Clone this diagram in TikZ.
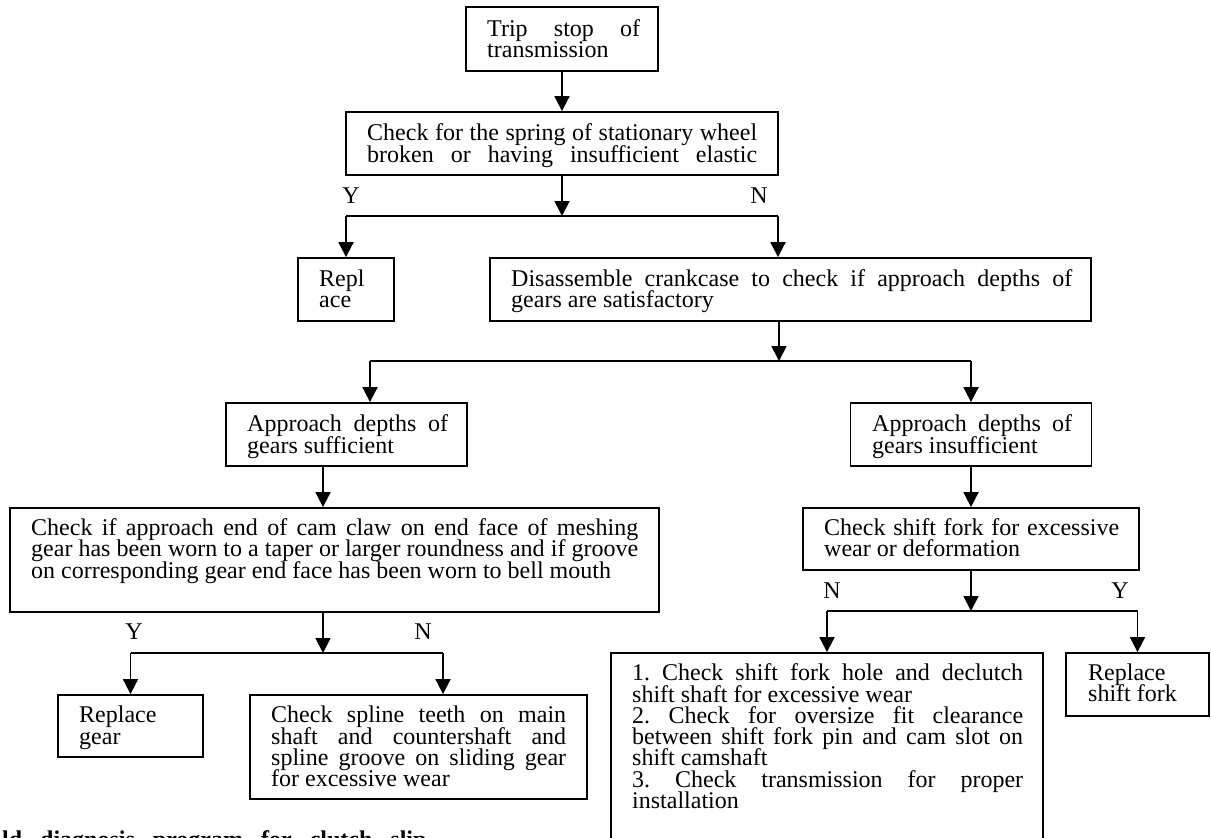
\documentclass[tikz,border=0pt]{standalone}
\usepackage{fontspec}
\setmainfont{Liberation Serif}
\usetikzlibrary{arrows.meta}
\newcommand\MyJust[1]{\hbox to \hsize{#1}}
\newcommand\MyPlain[1]{\hbox{#1}}
\newcommand\MyPar[2]{\vtop{\hsize=#1\relax #2}}
\newcommand\MyBoxFont{\fontsize{24}{21.3}\selectfont\lineskiplimit=-50pt\relax\frenchspacing}
\newcommand\MyCapFont{\bfseries\fontsize{24}{24}\selectfont\spaceskip=18pt\relax}
\begin{document}
\begin{tikzpicture}[x=1pt,y=-1pt,
  box/.style={draw, line width=1.8pt, inner sep=0pt, rectangle},
  txt/.style={inner sep=0pt, anchor=base west, font={\MyBoxFont}},
  lab/.style={inner sep=0pt, font={\fontsize{24}{24}\selectfont}},
  link/.style={line width=1.8pt},
  arr/.style={link, -{Triangle[length=15pt,width=15pt]}},
]
\useasboundingbox (0,0) rectangle (1211,838);
\clip (0,0) rectangle (1211,838);

% boxes
\node[box, minimum width=192pt, minimum height=64pt] (b1) at (562,39) {};
\node[box, minimum width=432pt, minimum height=63pt] (b2) at (562,143.5) {};
\node[box, minimum width=96pt, minimum height=63pt] (b3) at (346,289.5) {};
\node[box, minimum width=601pt, minimum height=63pt] (b4) at (790.5,289.5) {};
\node[box, minimum width=241pt, minimum height=63pt] (b5) at (346.5,434.5) {};
\node[box, minimum width=241pt, minimum height=63pt] (b6) at (971,434.5) {};
\node[box, minimum width=649pt, minimum height=104pt] (b7) at (334.5,560) {};
\node[box, minimum width=336pt, minimum height=62pt] (b11) at (971,539) {};
\node[box, minimum width=145pt, minimum height=62pt] (b8) at (130.5,726) {};
\node[box, minimum width=337pt, minimum height=104pt] (b10) at (418.5,747) {};
\node[box, minimum width=432pt, minimum height=250pt] (b9) at (827,778) {};
\node[box, minimum width=143pt, minimum height=63pt] (b12) at (1137.5,684.5) {};

% texts
\node[txt] (t1) at (487,36) {\MyPar{153pt}{\MyJust{Trip stop of}\MyPlain{transmission}}};
\node[txt] (t2) at (367,140.7) {\MyPar{390pt}{\MyJust{Check for the spring of stationary wheel}\MyJust{broken or having insufficient elastic}}};
\node[txt] (t3) at (319,286) {\MyPar{60pt}{\MyPlain{Repl}\MyPlain{ace}}};
\node[txt] (t4) at (511,286) {\MyPar{561pt}{\MyJust{Disassemble crankcase to check if approach depths of}\MyPlain{gears are satisfactory}}};
\node[txt] (t5) at (247,431.7) {\MyPar{201pt}{\MyJust{Approach depths of}\MyPlain{gears sufficient}}};
\node[txt] (t6) at (872,431.7) {\MyPar{200pt}{\MyJust{Approach depths of}\MyPlain{gears insufficient}}};
\node[txt] (t7) at (31,535.5) {\MyPar{607pt}{\MyJust{Check if approach end of cam claw on end face of meshing}\MyJust{gear has been worn to a taper or larger roundness and if groove}\MyPlain{on corresponding gear end face has been worn to bell mouth}}};
\node[txt] (t11) at (824,535) {\MyPar{295pt}{\MyJust{Check shift fork for excessive}\MyPlain{wear or deformation}}};
\node[txt] (t8) at (79,722.7) {\MyPar{100pt}{\MyPlain{Replace}\MyPlain{gear}}};
\node[txt] (t10) at (271,722.7) {\MyPar{295pt}{\MyJust{Check spline teeth on main}\MyJust{shaft and countershaft and}\MyJust{spline groove on sliding gear}\MyPlain{for excessive wear}}};
\node[txt] (t9) at (632,680.7) {\MyPar{391pt}{\MyJust{1. Check shift fork hole and declutch}\MyPlain{shift shaft for excessive wear}\MyJust{2. Check for oversize fit clearance}\MyJust{between shift fork pin and cam slot on}\MyPlain{shift camshaft}\MyJust{3. Check transmission for proper}\MyPlain{installation}}};
\node[txt] (t12) at (1088,680) {\MyPar{110pt}{\MyPlain{Replace}\MyPlain{shift fork}}};

% Y/N labels
\node[lab] (y1) at (351,196) {Y};
\node[lab] (n1) at (759,196) {N};
\node[lab] (y2) at (134,632) {Y};
\node[lab] (n2) at (423,632) {N};
\node[lab] (n3) at (832,591) {N};
\node[lab] (y3) at (1120,591) {Y};

% junction coordinates
\coordinate (j1) at (562,216);
\coordinate (j1a) at (346,216);
\coordinate (j1b) at (778,216);
\coordinate (j2) at (779,361);
\coordinate (j2a) at (370,361);
\coordinate (j2b) at (971,361);
\coordinate (j3) at (323,653);
\coordinate (j3a) at (130.5,653);
\coordinate (j3b) at (443,653);
\coordinate (j4) at (971,611);
\coordinate (j4a) at (827,611);
\coordinate (j4b) at (1137.5,611);
\coordinate (k5) at (323,480);

% connectors
\draw[arr] (b1.south) -- (b2.north);
\draw[arr] (b2.south) -- (j1);
\draw[link] (j1a) -- (j1b);
\draw[arr] (j1a) -- (b3.north);
\draw[arr] (j1b) -- (j1b |- b4.north);

\draw[arr] (j2 |- b4.south) -- (j2);
\draw[link] (j2a) -- (j2b);
\draw[arr] (j2a) -- (j2a |- b5.north);
\draw[arr] (j2b) -- (b6.north);

\draw[arr] (k5 |- b5.south) -- (k5 |- b7.north);
\draw[arr] (b6.south) -- (b11.north);

\draw[arr] (j3 |- b7.south) -- (j3);
\draw[link] (j3a) -- (j3b);
\draw[arr] (j3a) -- (b8.north);
\draw[arr] (j3b) -- (j3b |- b10.north);

\draw[arr] (b11.south) -- (j4);
\draw[link] (j4a) -- (j4b);
\draw[arr] (j4a) -- (b9.north);
\draw[arr] (j4b) -- (b12.north);

% clipped caption at the bottom edge
\node[anchor=base west, inner sep=0pt, font={\MyCapFont}] (cap) at (2,847) {ld diagnosis program for clutch slip};
\end{tikzpicture}
\end{document}
